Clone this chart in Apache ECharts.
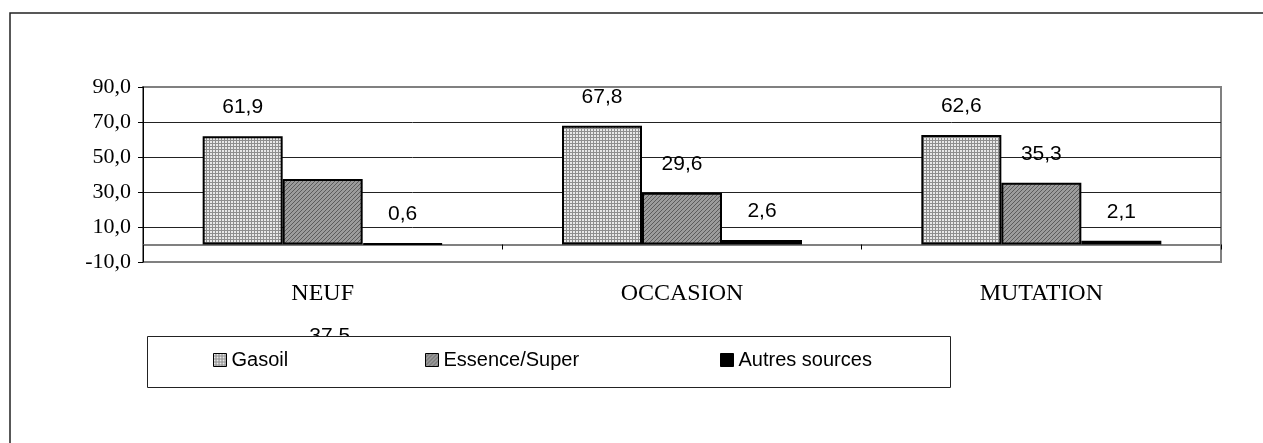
<!DOCTYPE html>
<html>
<head>
<meta charset="utf-8">
<script src="https://cdn.jsdelivr.net/npm/echarts@6/dist/echarts.min.js"></script>
<style>
  html, body { margin: 0; padding: 0; background: #fff; }
  #chart { width: 1263px; height: 443px; }
</style>
</head>
<body>
<div id="chart"></div>
<script>
// valeurs
const categories = ['NEUF', 'OCCASION', 'MUTATION'];
const seriesNames = ['Gasoil', 'Essence/Super', 'Autres sources'];
const gasoil = [61.9, 67.8, 62.6];
const essence = [37.5, 29.6, 35.3];
const autres = [0.6, 2.6, 2.1];
const yTicks = [-10, 10, 30, 50, 70, 90];

const SANS = 'Liberation Sans, Arial, sans-serif';
const SERIF = 'Liberation Serif, Times New Roman, serif';

// petits motifs de remplissage facon Excel
function makePattern(size, bg, fg, dots) {
  const c = document.createElement('canvas');
  c.width = size;
  c.height = size;
  const ctx = c.getContext('2d');
  ctx.fillStyle = bg;
  ctx.fillRect(0, 0, size, size);
  ctx.fillStyle = fg;
  dots.forEach(d => ctx.fillRect(d[0], d[1], d[2] || 1, d[3] || 1));
  return { image: c, repeat: 'repeat' };
}

const gasoilFill = makePattern(3, '#8e8e8e', '#e8e8e8', [[0, 0, 2, 2]]);
const essenceFill = makePattern(4, '#9c9c9c', '#5c5c5c', [[3, 0], [2, 1], [1, 2], [0, 3]]);
const autresFill = '#000';

const fmt = v => v.toFixed(1).replace('.', ',');

const chart = echarts.init(document.getElementById('chart'));

const labelStyle = {
  show: true,
  position: 'top',
  distance: 18,
  fontFamily: SANS,
  fontSize: 21,
  color: '#000',
  formatter: p => fmt(p.value)
};

function barSeries(name, values, fill) {
  return {
    name: name,
    type: 'bar',
    barWidth: 80,
    barGap: '0%',
    data: values,
    itemStyle: { color: fill, borderColor: '#000', borderWidth: 2 },
    label: labelStyle,
    emphasis: { disabled: true }
  };
}

// l'etiquette 37,5 est decalee sous l'axe dans l'original
const essenceData = essence.map((v, i) =>
  i === 0 ? { value: v, label: { offset: [7, 186] } } : v
);

function legendAt(name, left) {
  return {
    data: [name],
    left: left,
    top: 350,
    padding: 0,
    itemWidth: 13,
    itemHeight: 13,
    itemGap: 5,
    icon: 'rect',
    z: 120,
    selectedMode: false,
    itemStyle: { borderColor: '#000', borderWidth: 1 },
    textStyle: { fontFamily: SANS, fontSize: 20, color: '#000' }
  };
}

chart.setOption({
  animation: false,
  backgroundColor: '#fff',
  grid: {
    left: 143, right: 42, top: 87, bottom: 181,
    outerBoundsMode: 'none',
    show: true,
    borderColor: '#808080',
    borderWidth: 2
  },
  legend: [
    legendAt(seriesNames[0], 213),
    legendAt(seriesNames[1], 425),
    legendAt(seriesNames[2], 720)
  ],
  graphic: [
    {
      type: 'rect',
      z: 0,
      silent: true,
      shape: { x: 10, y: 13, width: 1320, height: 500 },
      style: { fill: 'none', stroke: '#222', lineWidth: 1.5 }
    },
    {
      type: 'rect',
      z: 110,
      silent: true,
      shape: { x: 147.5, y: 336.5, width: 803, height: 51 },
      style: { fill: '#fff', stroke: '#222', lineWidth: 1 }
    }
  ],
  xAxis: {
    type: 'category',
    data: categories,
    axisLine: { onZero: true, lineStyle: { color: '#808080', width: 2 } },
    axisTick: { show: true, length: 5, lineStyle: { color: '#000', width: 1 } },
    axisLabel: { margin: 20, fontFamily: SERIF, fontSize: 24, color: '#000' },
    splitLine: { show: false }
  },
  yAxis: {
    type: 'value',
    min: yTicks[0],
    max: yTicks[yTicks.length - 1],
    interval: 20,
    axisLine: { show: true, lineStyle: { color: '#000', width: 1 } },
    axisTick: { show: true, length: 5, lineStyle: { color: '#000' } },
    axisLabel: {
      margin: 12,
      fontFamily: SERIF,
      fontSize: 22,
      color: '#000',
      formatter: v => fmt(v)
    },
    splitLine: {
      show: true,
      lineStyle: { color: ['#808080', '#222', '#222', '#222', '#222', '#808080'], width: 1 }
    }
  },
  series: [
    barSeries(seriesNames[0], gasoil, gasoilFill),
    barSeries(seriesNames[1], essenceData, essenceFill),
    barSeries(seriesNames[2], autres, autresFill)
  ]
});
</script>
</body>
</html>
